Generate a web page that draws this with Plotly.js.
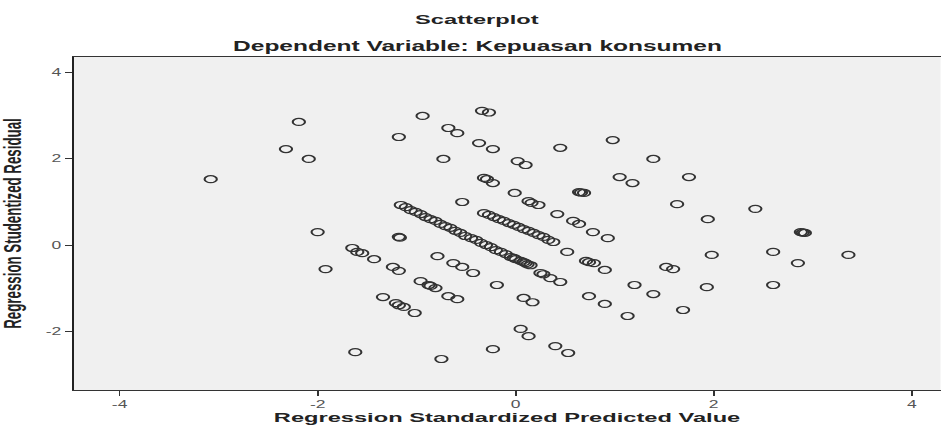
<!DOCTYPE html>
<html>
<head>
<meta charset="utf-8">
<script src="https://cdn.plot.ly/plotly-3.0.1.min.js"></script>
<style>
  html, body { margin: 0; padding: 0; background: #ffffff; overflow: hidden; }
  #chart { width: 539px; height: 432px; transform: scale(1.7514, 1); transform-origin: 0 0; }
</style>
</head>
<body>
<div id="chart"></div>
<script>
// Regression Standardized Predicted Value (x) and Studentized Residual (y)
const predicted = [
  -3.08, -2.19, -2.32, -2.09, -2.00, -1.92, -1.65, -1.60, -1.55, -1.43,
  -1.62, -1.24, -1.18, -1.18, -1.17, -1.34, -1.21, -1.18, -1.13, -1.02,
  -0.79, -0.63, -0.54, -0.43, -0.96, -0.88, -0.86, -0.81, -0.68, -0.59,
  -0.75, -0.19, -0.23, 0.05, 0.13, 0.08, 0.17, 0.25, 0.28, 0.35,
  0.45, 0.40, 0.53, 0.52, 0.71, 0.74, 0.79, 0.90, 1.20, 0.74,
  0.90, 1.13, -0.94, -1.18, -0.34, -0.27, -0.68, -0.59, -0.37, -0.23,
  -0.73, 0.02, 0.10, -0.32, -0.29, -0.23, -0.01, 0.13, 0.16, 0.23,
  0.64, 0.66, 0.69, -0.54, 0.42, 0.58, 0.64, 0.78, 0.93, 1.05,
  1.18, 1.39, 1.75, 1.63, 1.94, 2.42, 2.88, 2.90, 2.92, 2.60,
  2.85, 3.36, 1.98, 1.52, 1.59, 1.39, 1.93, 2.60, 1.69, 0.45,
  0.98,
  // main diagonal band
  -1.16, -1.11, -1.06, -1.01, -0.96, -0.91, -0.86, -0.81, -0.76, -0.71,
  -0.66, -0.61, -0.56, -0.51, -0.45, -0.40, -0.35, -0.30, -0.25, -0.20,
  -0.15, -0.10, -0.05, -0.02, 0.00, 0.05, 0.08, 0.10, 0.12, 0.15,
  // second diagonal band
  -0.32, -0.27, -0.22, -0.17, -0.12, -0.07, -0.02, 0.03, 0.08, 0.13,
  0.18, 0.23, 0.28, 0.33, 0.38
];
const residual = [
  1.53, 2.86, 2.23, 2.00, 0.30, -0.56, -0.07, -0.16, -0.19, -0.33,
  -2.49, -0.51, -0.60, 0.19, 0.17, -1.21, -1.35, -1.40, -1.44, -1.58,
  -0.26, -0.42, -0.51, -0.65, -0.84, -0.93, -0.95, -1.00, -1.19, -1.26,
  -2.65, -0.93, -2.42, -1.95, -2.12, -1.23, -1.33, -0.65, -0.68, -0.77,
  -0.86, -2.35, -2.51, -0.16, -0.37, -0.40, -0.42, -0.58, -0.93, -1.19,
  -1.37, -1.65, 3.00, 2.51, 3.12, 3.08, 2.72, 2.60, 2.37, 2.23,
  2.00, 1.95, 1.86, 1.56, 1.53, 1.44, 1.21, 1.02, 0.98, 0.93,
  1.23, 1.22, 1.21, 1.00, 0.72, 0.56, 0.49, 0.30, 0.16, 1.58,
  1.44, 2.00, 1.58, 0.95, 0.60, 0.84, 0.30, 0.29, 0.28, -0.16,
  -0.42, -0.23, -0.23, -0.51, -0.56, -1.14, -0.98, -0.93, -1.51, 2.26,
  2.44,
  0.93, 0.88, 0.81, 0.77, 0.72, 0.65, 0.60, 0.56, 0.49, 0.44,
  0.40, 0.33, 0.28, 0.21, 0.16, 0.12, 0.05, 0.00, -0.05, -0.12,
  -0.16, -0.21, -0.28, -0.30, -0.33, -0.37, -0.40, -0.42, -0.45, -0.47,
  0.74, 0.70, 0.65, 0.60, 0.56, 0.51, 0.47, 0.42, 0.37, 0.33,
  0.28, 0.23, 0.19, 0.12, 0.07
];
const xTickVals = [-4, -2, 0, 2, 4];
const xTickText = ['-4', '-2', '0', '2', '4'];
const yTickVals = [-2, 0, 2, 4];
const yTickText = ['-2', '0', '2', '4'];
const chartTitle = 'Scatterplot';
const chartSubtitle = 'Dependent Variable: Kepuasan konsumen';
const xTitle = 'Regression Standardized Predicted Value';
const yTitle = 'Regression Studentized Residual';

const FONT = 'Liberation Sans, Arial, Helvetica, sans-serif';

const trace = {
  type: 'scatter',
  mode: 'markers',
  x: predicted,
  y: residual,
  marker: {
    symbol: 'circle-open',
    size: 7,
    color: '#333333',
    line: { width: 1.2, color: '#333333' }
  },
  hoverinfo: 'skip'
};

const layout = {
  width: 539,
  height: 432,
  margin: { l: 42, r: 2, t: 57, b: 42 },
  paper_bgcolor: '#ffffff',
  plot_bgcolor: '#f0f0f0',
  showlegend: false,
  font: { family: FONT, color: '#222' },
  xaxis: {
    range: [-4.465, 4.29],
    tickvals: xTickVals,
    ticktext: xTickText,
    ticks: 'outside',
    ticklen: 5,
    tickwidth: 1,
    tickcolor: '#333',
    showgrid: false,
    zeroline: false,
    showline: true,
    linecolor: '#333',
    linewidth: 1,
    mirror: true,
    tickfont: { family: FONT, size: 10, color: '#555' },
    title: { text: '<b>' + xTitle + '</b>', font: { family: FONT, size: 13.5, color: '#222' }, standoff: 2 }
  },
  yaxis: {
    range: [-3.37, 4.37],
    tickvals: yTickVals,
    ticktext: yTickText,
    ticks: 'outside',
    ticklen: 4,
    tickwidth: 1,
    tickcolor: '#333',
    showgrid: false,
    zeroline: false,
    showline: true,
    linecolor: '#222',
    linewidth: 1,
    tickfont: { family: FONT, size: 10, color: '#555' },
    title: { text: '<b>' + yTitle + '</b>', font: { family: FONT, size: 13.3, color: '#222' }, standoff: 14 }
  },
  annotations: [
    { text: '<b>' + chartTitle + '</b>', xref: 'paper', yref: 'paper', x: 0.465, y: 1.114,
      xanchor: 'center', yanchor: 'middle', showarrow: false,
      font: { family: FONT, size: 13.5, color: '#222' } },
    { text: '<b>' + chartSubtitle + '</b>', xref: 'paper', yref: 'paper', x: 0.465, y: 1.033,
      xanchor: 'center', yanchor: 'middle', showarrow: false,
      font: { family: FONT, size: 14, color: '#222' } }
  ]
};

Plotly.newPlot('chart', [trace], layout, { staticPlot: true, displayModeBar: false });
</script>
</body>
</html>
